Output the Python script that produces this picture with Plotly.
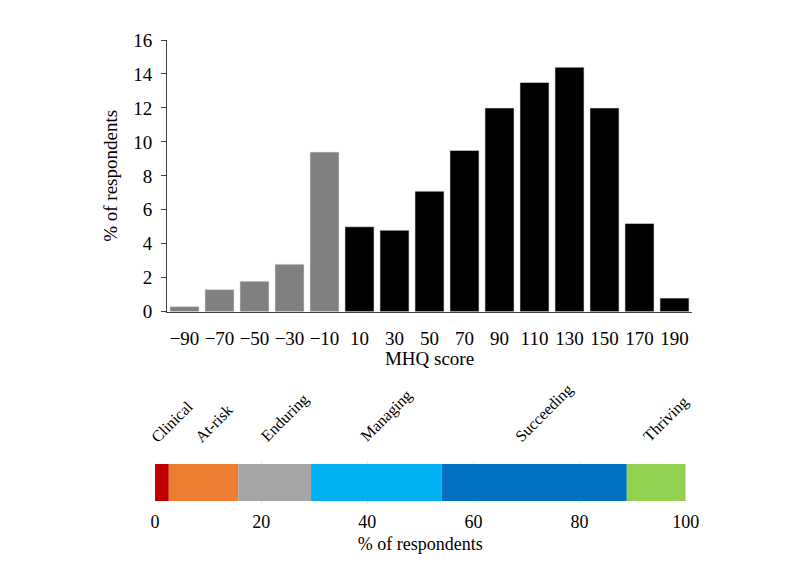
import plotly.graph_objects as go

# ---- data ----
mhq_bins = ["−90", "−70", "−50", "−30", "−10", "10", "30", "50", "70", "90",
            "110", "130", "150", "170", "190"]
pct_respondents = [0.3, 1.3, 1.8, 2.8, 9.4, 5.0, 4.8, 7.1, 9.5, 12.0,
                   13.5, 14.4, 12.0, 5.2, 0.8]
negative_bins = 5  # first five bins (negative scores) drawn in grey

categories = ["Clinical", "At-risk", "Enduring", "Managing", "Succeeding", "Thriving"]
category_pct = [2.6, 13.1, 13.7, 24.6, 34.9, 11.1]
category_colors = ["#C00000", "#ED7D31", "#A5A5A5", "#00B0F0", "#0070C0", "#92D050"]

y_ticks = [0, 2, 4, 6, 8, 10, 12, 14, 16]
x2_ticks = [0, 20, 40, 60, 80, 100]

FONT = "Liberation Serif"
W, H = 800, 569
OFF = 8  # page body margin offset

def px_x(px):
    return (px - OFF) / W

def py(px):
    return 1 - (px - OFF) / H

fig = go.Figure()

bar_colors = ["#808080" if i < negative_bins else "#000000" for i in range(len(mhq_bins))]
fig.add_trace(go.Bar(
    x=mhq_bins, y=pct_respondents, marker=dict(color=bar_colors, line=dict(color="#e6e6e6", width=0.6)),
    xaxis="x", yaxis="y", showlegend=False,
))

cum = 0
label_centers = []
for name, v, c in zip(categories, category_pct, category_colors):
    fig.add_trace(go.Bar(
        x=[v], y=[0], base=[cum], orientation="h", width=0.86,
        marker=dict(color=c, line=dict(width=0)), name=name,
        xaxis="x2", yaxis="y2", showlegend=False,
    ))
    label_centers.append(cum + v / 2)
    cum += v

for name, xc in zip(categories, label_centers):
    fig.add_annotation(
        x=xc, y=0.5, xref="x2", yref="y2", text=name, showarrow=False,
        textangle=-45, xanchor="center", yanchor="bottom", xshift=10, yshift=13,
        font=dict(family=FONT, size=16, color="#000000"),
    )

fig.update_layout(
    width=W, height=H, margin=dict(l=0, r=0, t=0, b=0, autoexpand=False),
    paper_bgcolor="white", plot_bgcolor="white",
    font=dict(family=FONT, size=19, color="#000000"),
    bargap=0.17, barmode="overlay",
    xaxis=dict(
        domain=[px_x(167), px_x(692)], anchor="y", type="category",
        range=[-0.5, len(mhq_bins) - 0.5], automargin=False,
        showline=True, linecolor="#404040", linewidth=1, ticks="",
        showgrid=False, zeroline=False, ticklabelstandoff=9,
        title=dict(text="MHQ score", font=dict(family=FONT, size=19), standoff=0),
        tickfont=dict(family=FONT, size=19),
    ),
    yaxis=dict(
        domain=[py(311.7), py(40)], anchor="x", range=[0, 16], automargin=False,
        tickvals=y_ticks, showline=True, linecolor="#404040", linewidth=1,
        ticks="outside", ticklen=5, tickcolor="#404040", ticklabelstandoff=5,
        showgrid=False, zeroline=False,
        title=dict(text="% of respondents", font=dict(family=FONT, size=19), standoff=10),
        tickfont=dict(family=FONT, size=19),
    ),
    xaxis2=dict(
        domain=[px_x(155), px_x(685.7)], anchor="y2", range=[0, 100], automargin=False,
        tickvals=x2_ticks, showline=False, ticks="",
        showgrid=True, gridcolor="#ececec", gridwidth=1, zeroline=False,
        ticklabelstandoff=5,
        title=dict(text="% of respondents", font=dict(family=FONT, size=18), standoff=6),
        tickfont=dict(family=FONT, size=18),
    ),
    yaxis2=dict(
        domain=[py(504), py(461)], anchor="x2", range=[-0.5, 0.5], automargin=False,
        showticklabels=False, showgrid=False, zeroline=False, showline=False, ticks="",
    ),
)

fig.write_html("out.html")
